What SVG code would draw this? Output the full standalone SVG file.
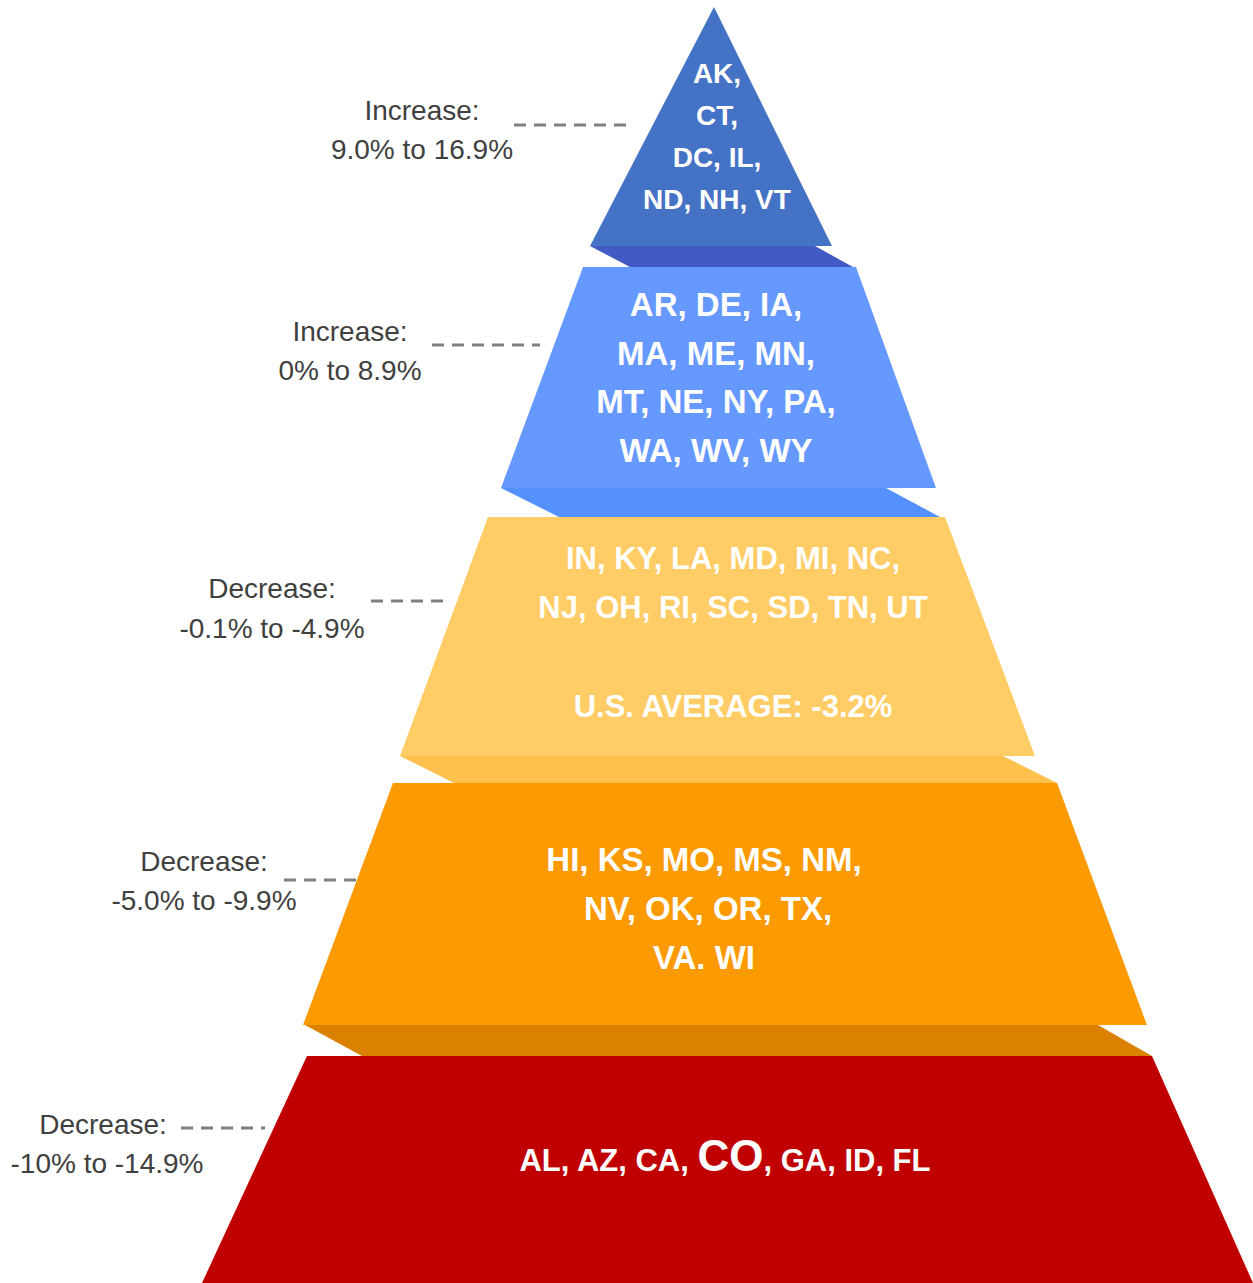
<svg xmlns="http://www.w3.org/2000/svg" width="1253" height="1283" viewBox="0 0 1253 1283">
<style>
.t{font-family:"Liberation Sans",Arial,sans-serif;font-weight:bold;fill:#fff;text-anchor:middle}
.l{font-family:"Liberation Sans",Arial,sans-serif;font-size:28px;fill:#404040;text-anchor:middle}
.d{stroke:#7f7f7f;stroke-width:3;stroke-dasharray:12 8;fill:none}
</style>
<rect width="1253" height="1283" fill="#fff"/>
<g id="joints">
<polygon points="590,246 815,246 853,267 630,267" fill="#415AC4"/>
<polygon points="501,488 886,488 940,517 559,517" fill="#5590FF"/>
<polygon points="400,756 1003,756 1057,783 454,783" fill="#FFC04D"/>
<polygon points="305,1025 1098,1025 1152,1056 362,1056" fill="#DA8200"/>
</g>
<g id="tier1">
<polygon points="714,7 832,246 590,246" fill="#4472C4"/>
<text class="t" font-size="28" x="717" y="83">AK,</text>
<text class="t" font-size="28" x="717" y="125">CT,</text>
<text class="t" font-size="28" x="717" y="167">DC, IL,</text>
<text class="t" font-size="28" x="717" y="209">ND, NH, VT</text>
</g>
<g id="tier2">
<polygon points="583,267 856,267 936,488 501,488" fill="#6699FF"/>
<text class="t" font-size="33" x="716" y="316">AR, DE, IA,</text>
<text class="t" font-size="33" x="716" y="365">MA, ME, MN,</text>
<text class="t" font-size="33" x="716" y="413">MT, NE, NY, PA,</text>
<text class="t" font-size="33" x="716" y="462">WA, WV, WY</text>
</g>
<g id="tier3">
<polygon points="488,517 945,517 1035,756 400,756" fill="#FFCC66"/>
<text class="t" font-size="31" x="733" y="569">IN, KY, LA, MD, MI, NC,</text>
<text class="t" font-size="31" x="733" y="618">NJ, OH, RI, SC, SD, TN, UT</text>
<text class="t" font-size="31" x="733" y="717">U.S. AVERAGE: -3.2%</text>
</g>
<g id="tier4">
<polygon points="393,783 1057,783 1147,1025 303,1025" fill="#FC9A04"/>
<text class="t" font-size="33" x="704" y="871">HI, KS, MO, MS, NM,</text>
<text class="t" font-size="33" x="708" y="920">NV, OK, OR, TX,</text>
<text class="t" font-size="33" x="704" y="969">VA. WI</text>
</g>
<g id="tier5">
<polygon points="307,1056 1152,1056 1253,1283 202,1283" fill="#C00000"/>
<text class="t" font-size="31" x="725" y="1171">AL, AZ, CA, <tspan font-size="44">CO</tspan>, GA, ID, FL</text>
</g>
<g id="label1">
<text class="l" x="422" y="120">Increase:</text>
<text class="l" x="422" y="159">9.0% to 16.9%</text>
</g>
<g id="label2">
<text class="l" x="350" y="341">Increase:</text>
<text class="l" x="350" y="380">0% to 8.9%</text>
</g>
<g id="label3">
<text class="l" x="272" y="598">Decrease:</text>
<text class="l" x="272" y="638">-0.1% to -4.9%</text>
</g>
<g id="label4">
<text class="l" x="204" y="871">Decrease:</text>
<text class="l" x="204" y="910">-5.0% to -9.9%</text>
</g>
<g id="label5">
<text class="l" x="103" y="1134">Decrease:</text>
<text class="l" x="107" y="1173">-10% to -14.9%</text>
</g>
<g id="connectors">
<line class="d" x1="514" y1="125" x2="634" y2="125"/>
<line class="d" x1="432" y1="345" x2="540" y2="345"/>
<line class="d" x1="371" y1="601" x2="448" y2="601"/>
<line class="d" x1="284" y1="880" x2="358" y2="880"/>
<line class="d" x1="181" y1="1128" x2="265" y2="1128"/>
</g>
</svg>
